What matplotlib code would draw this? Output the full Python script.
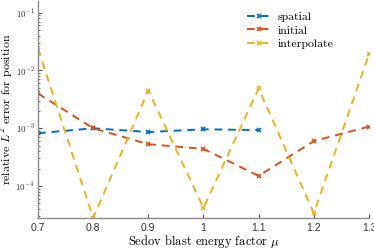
import matplotlib
matplotlib.use("Agg")
import matplotlib.pyplot as plt
from matplotlib.ticker import LogLocator, NullFormatter, FixedLocator

mu = [0.7, 0.8, 0.9, 1.0, 1.1, 1.2, 1.3]
mu_spatial = [0.7, 0.8, 0.9, 1.0, 1.1]
err_spatial = [8.2e-4, 1.0e-3, 8.6e-4, 9.6e-4, 9.3e-4]
err_initial = [4.0e-3, 1.0e-3, 5.3e-4, 4.4e-4, 1.5e-4, 6.0e-4, 1.07e-3]
err_interp = [2.4e-2, 2.8e-5, 4.5e-3, 4.2e-5, 4.9e-3, 3.4e-5, 1.9e-2]

ytick_vals = [1e-4, 1e-3, 1e-2, 1e-1]
ytick_labels = [r"$\mathsf{10^{-4}}$", r"$\mathsf{10^{-3}}$", r"$\mathsf{10^{-2}}$", r"$\mathsf{10^{-1}}$"]
xtick_labels = ["0.7", "0.8", "0.9", "1", "1.1", "1.2", "1.3"]

plt.rcParams["mathtext.fontset"] = "cm"

fig = plt.figure(figsize=(3.74, 2.49), dpi=100)
ax = fig.add_axes([0.1016, 0.1245, 0.885, 0.872])

style = dict(linestyle=(0, (4, 3)), linewidth=1.4, marker="x", markersize=3, markeredgewidth=1.2)
ax.plot(mu_spatial, err_spatial, color="#0072BD", label="spatial", **style)
ax.plot(mu, err_initial, color="#D95319", label="initial", **style)
ax.plot(mu, err_interp, color="#EDB120", label="interpolate", **style)

ax.set_yscale("log")
ax.set_xlim(0.7, 1.3)
ax.set_ylim(2.8e-5, 0.16)
ax.yaxis.set_major_locator(FixedLocator(ytick_vals))
ax.set_yticklabels(ytick_labels, fontsize=6.4)
ax.yaxis.set_minor_locator(LogLocator(base=10, subs=range(2, 10)))
ax.yaxis.set_minor_formatter(NullFormatter())
ax.set_xticks(mu)
ax.set_xticklabels(xtick_labels, fontfamily="Liberation Sans", fontsize=7.5)

for s in ["top", "right"]:
    ax.spines[s].set_visible(False)
for s in ["left", "bottom"]:
    ax.spines[s].set_color("#8a8a8a")
    ax.spines[s].set_linewidth(1.0)
ax.tick_params(which="both", direction="in", colors="#555555", labelcolor="#333333")
ax.tick_params(which="major", length=3)
ax.tick_params(which="minor", length=1.5)
ax.tick_params(axis="y", pad=2.5)

ax.set_xlabel(r"Sedov blast energy factor $\mu$", fontfamily="cmr10", fontsize=9)
ax.set_ylabel(r"relative $L^2$ error for position", fontfamily="cmr10", fontsize=8.6)
ax.xaxis.set_label_coords(0.5, -0.07)
ax.yaxis.set_label_coords(-0.068, 0.5)

leg = ax.legend(loc="upper right", bbox_to_anchor=(0.925, 1.0), frameon=False,
                handlelength=2.0, handletextpad=0.6, labelspacing=0.3,
                prop={"family": "cmr10", "size": 8.5})

fig.savefig("out.png", dpi=100)
